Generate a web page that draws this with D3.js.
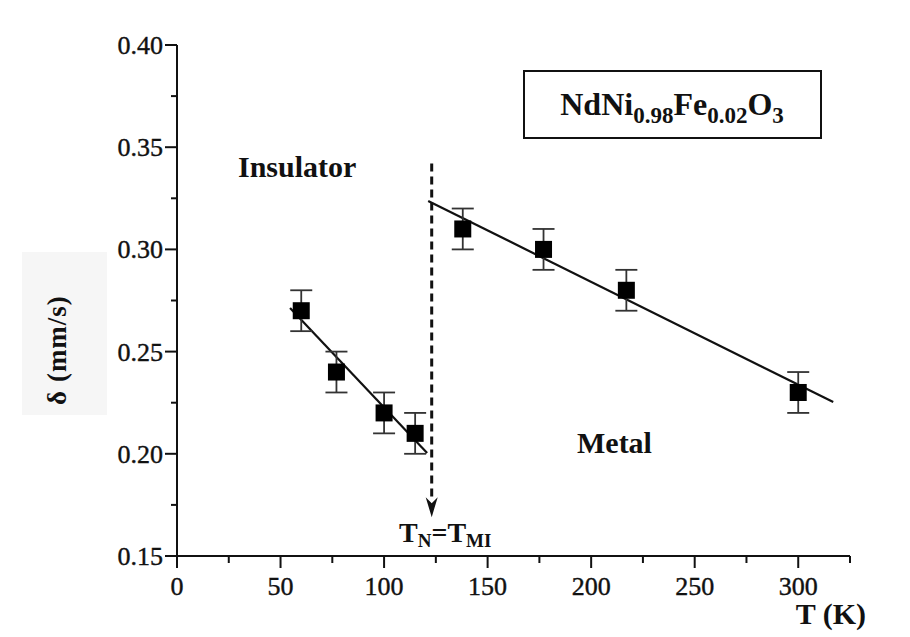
<!DOCTYPE html>
<html>
<head>
<meta charset="utf-8">
<script src="https://cdn.jsdelivr.net/npm/d3@7"></script>
<style>
  body { margin: 0; background: #fff; }
  text { font-family: "Liberation Serif", "Times New Roman", serif; fill: #111; }
</style>
</head>
<body>
<div id="chart"></div>
<script>
// measured points: temperature (K), isomer shift (mm/s), error
var temps  = [60, 77, 100, 115, 138, 177, 217, 300];
var shifts = [0.27, 0.24, 0.22, 0.21, 0.31, 0.30, 0.28, 0.23];
var errs   = [0.01, 0.01, 0.01, 0.01, 0.01, 0.01, 0.01, 0.01];

// linear fits (end points)
var insulatorFit = [[54.6, 0.2713], [120.8, 0.2004]];
var metalFit     = [[121.3, 0.3237], [316.9, 0.2253]];

// transition temperature marker
var tTransition = 123;
var transitionRange = [0.342, 0.169];

var xTicks = [0, 50, 100, 150, 200, 250, 300];
var yTicks = [0.15, 0.20, 0.25, 0.30, 0.35, 0.40];

var w = 910, h = 637;

var svg = d3.select("#chart").append("svg")
    .attr("width", w)
    .attr("height", h);

var x = d3.scaleLinear().domain([0, 325]).range([177, 850]);
var y = d3.scaleLinear().domain([0.15, 0.40]).range([556, 45]);

// faint box behind y label
svg.append("rect")
    .attr("x", 22).attr("y", 252)
    .attr("width", 85).attr("height", 163)
    .style("fill", "#f6f6f6");

// x axis
var xAxis = svg.append("g")
    .attr("transform", "translate(0," + y(0.15) + ")");
xAxis.append("line")
    .attr("x1", x(0) - 10).attr("x2", x(325))
    .style("stroke", "#111").style("stroke-width", 2);
xAxis.selectAll(".minor")
    .data(d3.range(25, 326, 50))
    .enter().append("line")
    .attr("x1", function(d) { return x(d); })
    .attr("x2", function(d) { return x(d); })
    .attr("y1", 0).attr("y2", 7)
    .style("stroke", "#111").style("stroke-width", 2);
xAxis.selectAll(".major")
    .data(xTicks)
    .enter().append("line")
    .attr("x1", function(d) { return x(d); })
    .attr("x2", function(d) { return x(d); })
    .attr("y1", 0).attr("y2", 12)
    .style("stroke", "#111").style("stroke-width", 2);
xAxis.selectAll("text")
    .data(xTicks)
    .enter().append("text")
    .attr("x", function(d) { return x(d); })
    .attr("y", 39)
    .attr("text-anchor", "middle")
    .style("font-size", "26px")
    .style("stroke", "#111").style("stroke-width", 0.4)
    .text(function(d) { return d; });

// y axis
var yAxis = svg.append("g")
    .attr("transform", "translate(" + x(0) + ",0)");
yAxis.append("line")
    .attr("y1", y(0.40)).attr("y2", y(0.15))
    .style("stroke", "#111").style("stroke-width", 2);
yAxis.selectAll(".minor")
    .data([0.175, 0.225, 0.275, 0.325, 0.375])
    .enter().append("line")
    .attr("y1", function(d) { return y(d); })
    .attr("y2", function(d) { return y(d); })
    .attr("x1", 0).attr("x2", -6)
    .style("stroke", "#111").style("stroke-width", 2);
yAxis.selectAll(".major")
    .data(yTicks)
    .enter().append("line")
    .attr("y1", function(d) { return y(d); })
    .attr("y2", function(d) { return y(d); })
    .attr("x1", 0).attr("x2", -12)
    .style("stroke", "#111").style("stroke-width", 2);
yAxis.selectAll("text")
    .data(yTicks)
    .enter().append("text")
    .attr("x", -14)
    .attr("y", function(d) { return y(d) + 9; })
    .attr("text-anchor", "end")
    .style("font-size", "26px")
    .style("stroke", "#111").style("stroke-width", 0.4)
    .text(function(d) { return d3.format(".2f")(d); });

// axis titles
svg.append("text")
    .attr("transform", "translate(66,350) rotate(-90)")
    .attr("text-anchor", "middle")
    .style("font-size", "27px")
    .style("font-weight", "bold")
    .style("letter-spacing", "1px")
    .text("δ (mm/s)");

svg.append("text")
    .attr("x", 866).attr("y", 624)
    .attr("text-anchor", "end")
    .style("font-size", "30px")
    .style("font-weight", "bold")
    .text("T (K)");

// fits
var line = d3.line()
    .x(function(d) { return x(d[0]); })
    .y(function(d) { return y(d[1]); });

svg.selectAll(".fit")
    .data([insulatorFit, metalFit])
    .enter().append("path")
    .attr("d", line)
    .style("fill", "none")
    .style("stroke", "#111")
    .style("stroke-width", 2.2);

// dashed transition marker with arrow
svg.append("line")
    .attr("x1", x(tTransition)).attr("x2", x(tTransition))
    .attr("y1", y(transitionRange[0])).attr("y2", y(transitionRange[1]) - 16)
    .style("stroke", "#111")
    .style("stroke-width", 3)
    .style("stroke-dasharray", "8,5");

svg.append("path")
    .attr("d", "M" + (x(tTransition) - 6) + "," + (y(transitionRange[1]) - 20) +
               "L" + x(tTransition) + "," + y(transitionRange[1]) +
               "L" + (x(tTransition) + 6) + "," + (y(transitionRange[1]) - 20) +
               "L" + x(tTransition) + "," + (y(transitionRange[1]) - 14) + "Z")
    .style("fill", "#111");

// error bars
var pts = temps.map(function(t, i) { return {t: t, v: shifts[i], e: errs[i]}; });
var eb = svg.selectAll(".err")
    .data(pts)
    .enter().append("g");
eb.append("line")
    .attr("x1", function(d) { return x(d.t); })
    .attr("x2", function(d) { return x(d.t); })
    .attr("y1", function(d) { return y(d.v + d.e); })
    .attr("y2", function(d) { return y(d.v - d.e); })
    .style("stroke", "#333").style("stroke-width", 1.8);
[1, -1].forEach(function(s) {
    eb.append("line")
        .attr("x1", function(d) { return x(d.t) - 11; })
        .attr("x2", function(d) { return x(d.t) + 11; })
        .attr("y1", function(d) { return y(d.v + s * d.e); })
        .attr("y2", function(d) { return y(d.v + s * d.e); })
        .style("stroke", "#333").style("stroke-width", 1.8);
});

// squares
svg.selectAll(".pt")
    .data(pts)
    .enter().append("rect")
    .attr("x", function(d) { return x(d.t) - 8.5; })
    .attr("y", function(d) { return y(d.v) - 8.5; })
    .attr("width", 17).attr("height", 17)
    .style("fill", "#000");

// region labels
svg.append("text")
    .attr("x", 238).attr("y", 177)
    .style("font-size", "30px").style("font-weight", "bold")
    .text("Insulator");
svg.append("text")
    .attr("x", 577).attr("y", 453)
    .style("font-size", "30px").style("font-weight", "bold")
    .text("Metal");

// T_N = T_MI label
var tl = svg.append("text")
    .attr("x", 399).attr("y", 542)
    .style("font-size", "28px").style("font-weight", "bold");
tl.append("tspan").text("T");
tl.append("tspan").attr("dy", 5).style("font-size", "19px").text("N");
tl.append("tspan").attr("dy", -5).text("=T");
tl.append("tspan").attr("dy", 5).style("font-size", "19px").text("MI");

// compound box
svg.append("rect")
    .attr("x", 524).attr("y", 71)
    .attr("width", 297).attr("height", 67)
    .style("fill", "#fff")
    .style("stroke", "#111")
    .style("stroke-width", 2);
var lg = svg.append("text")
    .attr("x", 672).attr("y", 115)
    .attr("text-anchor", "middle")
    .style("font-size", "32px").style("font-weight", "bold");
lg.append("tspan").text("NdNi");
lg.append("tspan").attr("dy", 8).style("font-size", "23px").text("0.98");
lg.append("tspan").attr("dy", -8).text("Fe");
lg.append("tspan").attr("dy", 8).style("font-size", "23px").text("0.02");
lg.append("tspan").attr("dy", -8).text("O");
lg.append("tspan").attr("dy", 8).style("font-size", "23px").text("3");
</script>
</body>
</html>
